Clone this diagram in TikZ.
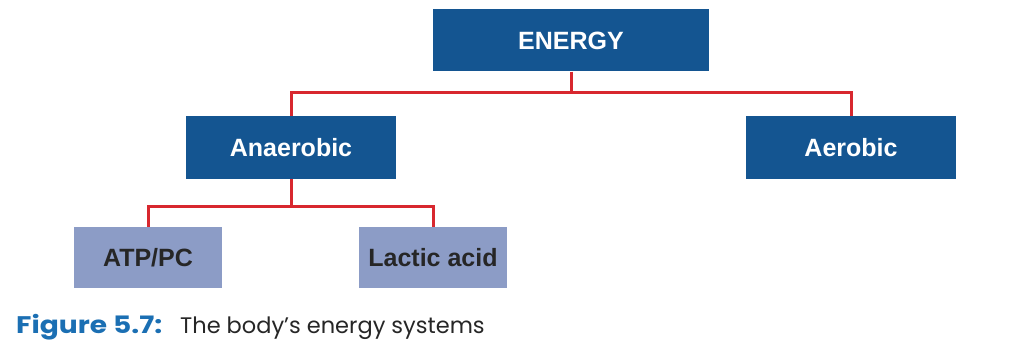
\documentclass[tikz,border=0pt]{standalone}
\usepackage{fontspec}
\setmainfont{Liberation Sans}
\newfontfamily\capfont{Poppins}
\definecolor{darkbox}{HTML}{145591}
\definecolor{lightbox}{HTML}{8C9CC6}
\definecolor{linkred}{HTML}{D8282F}
\definecolor{capblue}{HTML}{1B6FB3}
\begin{document}
\begin{tikzpicture}[x=1pt,y=-1pt,
  darknode/.style={fill=darkbox, text=white, font=\fontsize{25}{28}\selectfont\bfseries, inner sep=0pt},
  lightnode/.style={fill=lightbox, text=black!85, font=\fontsize{25}{28}\selectfont\bfseries, inner sep=0pt},
  link/.style={draw=linkred, line width=3pt}]
\useasboundingbox (0,0) rectangle (1036,342);
\node[darknode, minimum width=276pt, minimum height=62pt] (energy) at (571,40.5) {ENERGY};
\node[darknode, minimum width=210pt, minimum height=63pt] (anaer) at (291,147.5) {Anaerobic};
\node[darknode, minimum width=210pt, minimum height=63pt] (aer) at (851,147.5) {Aerobic};
\node[lightnode, minimum width=148pt, minimum height=61pt] (atp) at (148,257.5) {ATP/PC};
\node[lightnode, minimum width=148pt, minimum height=61pt] (lactic) at (433,257.5) {Lactic acid};
\coordinate (j1) at (571,92.5);
\coordinate (j2) at (291,206);
\draw[link] (energy.south) -- (j1);
\draw[link] (anaer.north) -- (anaer.north |- j1) -- (aer.north |- j1) -- (aer.north);
\draw[link] (anaer.south) -- (j2);
\draw[link] (atp.north) -- (atp.north |- j2) -- (lactic.north |- j2) -- (lactic.north);
\node[anchor=base west, inner sep=0pt, font=\fontsize{24}{26}\selectfont\capfont\bfseries, text=capblue] (fig) at (16,333)
  {\scalebox{1.17}[1]{Figure 5.7:}};
\node[anchor=base west, inner sep=0pt, font=\fontsize{22.5}{26}\selectfont\capfont, text=black!85] (cap) at (180,333)
  {The body’s energy systems};
\end{tikzpicture}
\end{document}
